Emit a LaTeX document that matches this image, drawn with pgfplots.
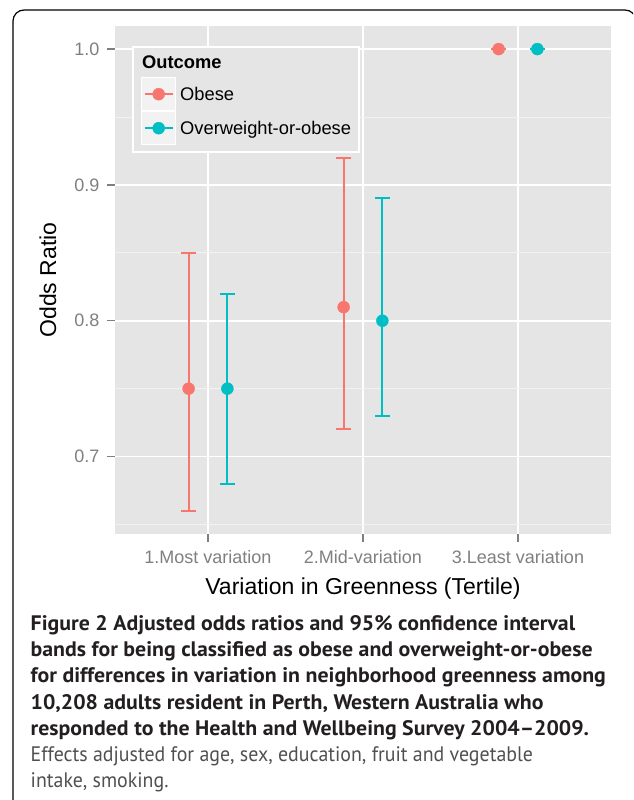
\documentclass[border=0pt]{standalone}
\usepackage{pgfplots}
\pgfplotsset{compat=1.18}
\usepackage{pgfplotstable}
\usepackage{fontspec}
\setmainfont{Liberation Sans}
\newfontfamily\capreg{PT Sans}[FakeStretch=0.947]
\newfontfamily\capbold{PT Sans}[FakeStretch=1.04]

\definecolor{ggbg}{HTML}{E5E5E5}
\definecolor{ggkey}{HTML}{F2F2F2}
\definecolor{ggred}{HTML}{F8766D}
\definecolor{ggteal}{HTML}{00BFC4}
\definecolor{ggtick}{HTML}{7F7F7F}
\definecolor{capdark}{HTML}{231F20}
\definecolor{capgrey}{HTML}{505050}

% x (dodged), odds ratio, upper-OR, OR-lower
\pgfplotstableread{
x     or    ep    em
0.875 0.75  0.10  0.09
1.875 0.81  0.11  0.09
2.875 1.00  0.00  0.00
}\obese
\pgfplotstableread{
x     or    ep    em
1.125 0.75  0.07  0.07
2.125 0.80  0.09  0.07
3.125 1.00  0.00  0.00
}\overw

\begin{document}
\begin{tikzpicture}
  \useasboundingbox (0pt,0pt) rectangle (633pt,800pt);
  \begin{scope}
    \clip (0pt,0pt) rectangle (633pt,800pt);
    \draw[line width=1.2pt, rounded corners=11pt] (13pt,-30pt) rectangle (636pt,790pt);
  \end{scope}

  \begin{axis}[
      at={(115pt,266pt)}, anchor=south west,
      scale only axis, width=496pt, height=508pt,
      xmin=0.4, xmax=3.6, ymin=0.643, ymax=1.017,
      clip=false,
      axis background/.style={fill=ggbg},
      axis line style={draw=none},
      tick align=outside,
      xtick pos=left, ytick pos=left,
      major tick length=8pt,
      minor tick length=0pt,
      tick style={ggtick, line width=1.2pt},
      xtick={1,2,3},
      xticklabels={1.Most variation, 2.Mid-variation, 3.Least variation},
      ytick={0.7,0.8,0.9,1.0},
      yticklabels={0.7,0.8,0.9,1.0},
      minor ytick={0.65,0.75,0.85,0.95},
      xmajorgrids, ymajorgrids, yminorgrids,
      major grid style={white, line width=1.8pt},
      minor grid style={ggkey, line width=0.9pt},
      ticklabel style={font=\fontsize{18}{18}\selectfont, text=ggtick},
      xticklabel style={yshift=-5pt},
      yticklabel style={xshift=-4pt},
      xlabel={Variation in Greenness (Tertile)},
      ylabel={Odds Ratio},
      every axis x label/.style={at={(axis description cs:0.5,0)}, anchor=base, yshift=-61pt, font=\fontsize{23}{23}\selectfont},
      every axis y label/.style={at={(axis description cs:-0.1351,0.5)}, rotate=90, anchor=center, font=\fontsize{23}{23}\selectfont},
      legend cell align=left,
      legend style={at={(axis description cs:0.0524,0.8996)}, anchor=north west,
        fill=none, draw=none, inner sep=0pt, row sep=0pt, column sep=4pt,
        nodes={inner sep=0pt}, font=\fontsize{18.3}{18.3}\selectfont},
    ]

    % legend frame and title (ggplot guide box)
    \draw[fill=ggbg, draw=white, line width=1.5pt]
      (axis description cs:0.0363,0.9587) rectangle (axis description cs:0.4919,0.7520);
    \node[anchor=base west, inner sep=0pt, font=\fontsize{18.3}{18.3}\selectfont\bfseries]
      at (axis description cs:0.0544,0.9173) {Outcome};

    \addplot[
      only marks, mark=*, mark size=6pt, color=ggred,
      legend image code/.code={
        \filldraw[fill=ggkey, draw=white, line width=1pt] (0pt,-16.5pt) rectangle (34pt,16.5pt);
        \draw[ggred, line width=2pt] (3pt,0pt) -- (31pt,0pt);
        \fill[ggred] (17pt,0pt) circle (6pt);},
      error bars/.cd, y dir=both, y explicit,
      error bar style={line width=2pt, draw=ggred},
      error mark options={draw=ggred, line width=2pt, mark size=7.5pt, rotate=90},
    ] table[x=x, y=or, y error plus=ep, y error minus=em] {\obese};
    \addlegendentry{Obese}

    \addplot[
      only marks, mark=*, mark size=6pt, color=ggteal,
      legend image code/.code={
        \filldraw[fill=ggkey, draw=white, line width=1pt] (0pt,-16.5pt) rectangle (34pt,16.5pt);
        \draw[ggteal, line width=2pt] (3pt,0pt) -- (31pt,0pt);
        \fill[ggteal] (17pt,0pt) circle (6pt);},
      error bars/.cd, y dir=both, y explicit,
      error bar style={line width=2pt, draw=ggteal},
      error mark options={draw=ggteal, line width=2pt, mark size=7.5pt, rotate=90},
    ] table[x=x, y=or, y error plus=ep, y error minus=em] {\overw};
    \addlegendentry{Overweight-or-obese}

  \end{axis}

  \node[anchor=north west, align=left, inner sep=0pt, text=capdark,
    font=\fontsize{21}{26.3}\selectfont] at (30.5pt,185pt) {%
    {\capbold\bfseries Figure 2 Adjusted odds ratios and 95\% confidence interval}\\
    {\capbold\bfseries bands for being classified as obese and overweight-or-obese}\\
    {\capbold\bfseries for differences in variation in neighborhood greenness among}\\
    {\capbold\bfseries 10,208 adults resident in Perth, Western Australia who}\\
    {\capbold\bfseries responded to the Health and Wellbeing Survey 2004–2009.}\\
    {\capreg\color{capgrey}Effects adjusted for age, sex, education, fruit and vegetable}\\
    {\capreg\color{capgrey}intake, smoking.}};
\end{tikzpicture}
\end{document}
